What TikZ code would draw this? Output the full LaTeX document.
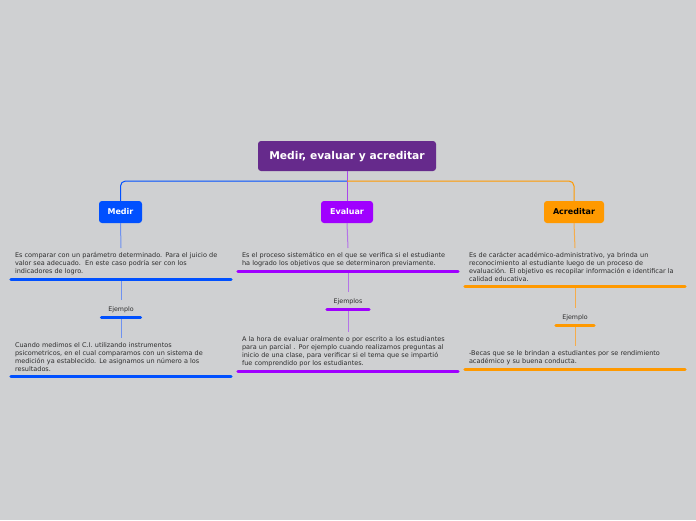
\documentclass[tikz,border=0pt]{standalone}
\usepackage{fontspec}
\setmainfont{DejaVu Sans}
\definecolor{bg}{RGB}{207,208,210}
\definecolor{rootc}{RGB}{102,42,140}
\definecolor{bluec}{RGB}{0,80,255}
\definecolor{purc}{RGB}{160,0,255}
\definecolor{orc}{RGB}{255,153,0}
\definecolor{lblue}{RGB}{110,145,240}
\definecolor{lpur}{RGB}{180,115,232}
\definecolor{lor}{RGB}{245,172,75}
\definecolor{stem}{RGB}{170,70,235}
\definecolor{txt}{RGB}{45,45,45}
\tikzset{
  topic/.style={rounded corners=3pt, inner sep=0pt, minimum height=22pt, text height=5.9pt, text depth=0pt, text=white, font=\bfseries\fontsize{8}{9}\selectfont},
  desc/.style={anchor=north, text width=212pt, inner xsep=4pt, inner ysep=4.5pt, align=left, text=txt, font=\fontsize{6.5}{8}\selectfont},
  lab/.style={anchor=north, inner sep=0pt, minimum height=17pt, text height=4.6pt, text depth=0pt, text=txt, font=\fontsize{6.3}{8}\selectfont},
  ul/.style={line width=3pt, line cap=round},
  conn/.style={line width=1pt},
}
\begin{document}
\begin{tikzpicture}[x=1pt,y=-1pt]
\useasboundingbox[fill=bg] (0,0) rectangle (696,520);
% root and main topics
\node[topic, fill=rootc, minimum width=178pt, minimum height=30pt, text height=7.8pt, font=\bfseries\fontsize{10.7}{12}\selectfont] (root) at (347,156) {Medir, evaluar y acreditar};
\node[topic, fill=bluec, minimum width=43pt] (medir) at (120.5,212) {Medir};
\node[topic, fill=purc, minimum width=52pt] (eval) at (347,212) {Evaluar};
\node[topic, fill=orc, minimum width=60pt, text=black] (acred) at (574,212) {Acreditar};
\coordinate (j) at (347,181);
% descriptions
\node[desc] (t1) at (121,248) {Es comparar con un parámetro determinado. Para el juicio de\\valor sea adecuado.\ \ En este caso podría ser con los\\indicadores de logro.};
\node[lab, minimum width=39pt] (e1) at (121,300) {Ejemplo};
\node[desc] (t2) at (121,338) {Cuando medimos el C.I. utilizando instrumentos\\psicometricos, en el cual comparamos con un sistema de\\medición ya establecido. Le asignamos un número a los\\resultados.};
\node[desc] (t3) at (348,248) {Es el proceso sistemático en el que se verifica si el estudiante\\ha logrado los objetivos que se determinaron previamente.};
\node[lab, minimum width=42pt] (e2) at (348,292) {Ejemplos};
\node[desc] (t4) at (348,332) {A la hora de evaluar oralmente o por escrito a los estudiantes\\para un parcial . Por ejemplo cuando realizamos preguntas al\\inicio de una clase, para verificar si el tema que se impartió\\fue comprendido por los estudiantes.};
\node[desc] (t5) at (575,248) {Es de carácter académico-administrativo, ya brinda un\\reconocimiento al estudiante luego de un proceso de\\evaluación. El objetivo es recopilar información e identificar la\\calidad educativa.};
\node[lab, minimum width=38pt] (e3) at (575,308) {Ejemplo};
\node[desc] (t6) at (575,346) {-Becas que se le brindan a estudiantes por se rendimiento\\académico y su buena conducta.};
% main connectors
\draw[conn, stem] (root.south) -- (eval.north);
\draw[conn, bluec, rounded corners=5pt] (j) -| (medir.north);
\draw[conn, orc, rounded corners=5pt] (j) -| (acred.north);
% subtree connectors
\draw[conn, lblue] (medir.south) -- (t1.north);
\draw[conn, lblue] (t1.south) -- (e1.north);
\draw[conn, lblue] (e1.south) -- (t2.north);
\draw[conn, lpur] (eval.south) -- (t3.north);
\draw[conn, lpur] (t3.south) -- (e2.north);
\draw[conn, lpur] (e2.south) -- (t4.north);
\draw[conn, lor] (acred.south) -- (t5.north);
\draw[conn, lor] (t5.south) -- (e3.north);
\draw[conn, lor] (e3.south) -- (t6.north);
% underlines
\foreach \n/\c in {t1/bluec,e1/bluec,t2/bluec,t3/purc,e2/purc,t4/purc,t5/orc,e3/orc,t6/orc}
  \draw[ul, \c] (\n.south west) -- (\n.south east);
\end{tikzpicture}
\end{document}
